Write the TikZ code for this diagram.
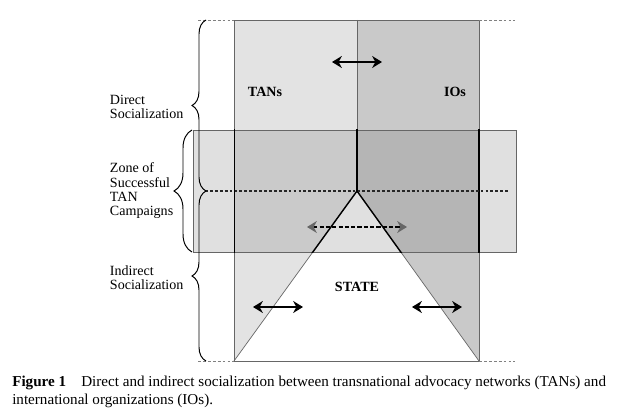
\documentclass[tikz,border=0pt]{standalone}
\usepackage{fontspec}
\setmainfont{Liberation Serif}
\usetikzlibrary{arrows.meta,decorations.pathreplacing}
\definecolor{tanfill}{HTML}{E3E3E3}
\definecolor{iofill}{HTML}{C9C9C9}
\definecolor{edgegray}{HTML}{666666}
\definecolor{zonetint}{HTML}{6E6E6E}
\begin{document}
\begin{tikzpicture}[x=0.025cm, y=-0.025cm,
    colline/.style={draw=edgegray, line width=0.5pt},
    zoneline/.style={black, line width=1pt},
    brc/.style={decorate, decoration={brace, amplitude=#1}, line width=0.7pt},
    sidelbl/.style={anchor=west, align=left, font=\fontsize{10}{10.2}\selectfont},
    boldlbl/.style={font=\bfseries\fontsize{10}{12}\selectfont},
    dblarr/.style={{Stealth[length=7pt,width=8.5pt]}-{Stealth[length=7pt,width=8.5pt]}, line width=1.1pt},
    guide/.style={gray, dash pattern=on 2pt off 1.5pt, line width=0.6pt}
]
\useasboundingbox (0,0) rectangle (620,420);

% corners of the two columns
\coordinate (tl) at (234,20);
\coordinate (tm) at (357,20);
\coordinate (tr) at (479,20);
\coordinate (bl) at (234,361);
\coordinate (bm) at (357,361);
\coordinate (br) at (479,361);
\coordinate (apex) at (357,191);

% TANs and IOs columns
\fill[tanfill] (tl) rectangle (bm);
\fill[iofill] (tm) rectangle (br);

% state triangle
\fill[white] (apex) -- (bl) -- (br) -- cycle;

% outlines
\draw[colline] (tl) rectangle (br);
\draw[colline] (tm) -- (apex);
\draw[colline] (bl) -- (apex) -- (br);

% zone of successful campaigns
\coordinate (ztl) at (193,130);
\coordinate (zbr) at (516,252);
\fill[zonetint, opacity=0.21] (ztl) rectangle (zbr);
\draw[edgegray, line width=0.6pt] (ztl) rectangle (zbr);

% thick edges inside the zone
\begin{scope}
  \clip (ztl) rectangle (zbr);
  \draw[zoneline] (tm) -- (apex);
  \draw[zoneline] (bl) -- (apex) -- (br);
  \draw[zoneline] (tr) -- (br);
  \draw[black, line width=0.7pt] (tl) -- (bl);
\end{scope}

% dotted guides
\coordinate (gtl) at (198,20);
\coordinate (gtr) at (515,20);
\coordinate (gbl) at (198,361);
\coordinate (gbr) at (515,361);
\coordinate (gml) at (205,191);
\coordinate (gmr) at (510,191);
\draw[guide] (gtl) -- (tl);
\draw[guide] (tr) -- (gtr);
\draw[guide] (gbl) -- (bl);
\draw[guide] (br) -- (gbr);
\draw[black!85, dash pattern=on 2pt off 1.5pt, line width=0.9pt] (gml) -- (gmr);

% braces
\draw[brc=0.35cm] (206,191) -- (206,20);
\draw[brc=0.35cm] (206,361) -- (206,191);
\draw[brc=0.45cm] (192,252) -- (192,130);

% side labels
\node[sidelbl] (direct) at (105,107) {Direct\\Socialization};
\node[sidelbl] (zone) at (105,191) {Zone of\\Successful\\TAN\\Campaigns};
\node[sidelbl] (indirect) at (105,278) {Indirect\\Socialization};

% actors
\node[boldlbl] (tans) at (265,92) {TANs};
\node[boldlbl] (ios) at (455,92) {IOs};
\node[boldlbl] (state) at (357,287) {STATE};

% interaction arrows
\coordinate (a1l) at (332,62);
\coordinate (a1r) at (382,62);
\coordinate (a2l) at (253,307);
\coordinate (a2r) at (303,307);
\coordinate (a3l) at (412,307);
\coordinate (a3r) at (462,307);
\coordinate (a4l) at (307,227);
\coordinate (a4r) at (407,227);
\draw[dblarr] (a1l) -- (a1r);
\draw[dblarr] (a2l) -- (a2r);
\draw[dblarr] (a3l) -- (a3r);
\draw[{Stealth[length=7pt,width=8.5pt,gray!80!black]}-{Stealth[length=7pt,width=8.5pt,gray!80!black]}, line width=1pt, dash pattern=on 3pt off 1.5pt] (a4l) -- (a4r);

% caption
\node[anchor=base west, align=left, font=\fontsize{10.75}{12.3}\selectfont, inner sep=0pt] (caption) at (12,404)
  {\textbf{Figure 1}\quad Direct and indirect socialization between transnational advocacy networks (TANs) and\\international organizations (IOs).};
\end{tikzpicture}
\end{document}
